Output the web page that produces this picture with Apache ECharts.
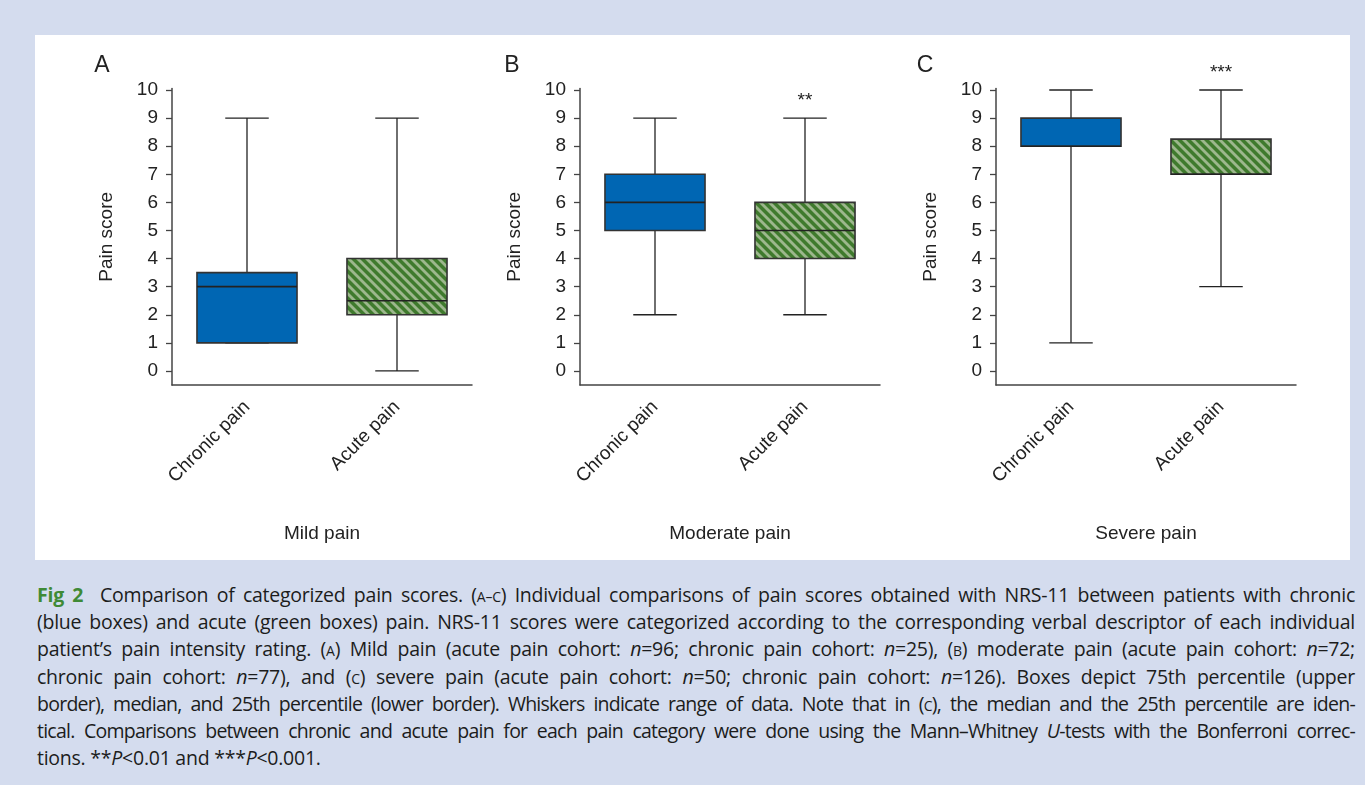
<!DOCTYPE html>
<html>
<head>
<meta charset="utf-8">
<script src="https://cdn.jsdelivr.net/npm/echarts@6/dist/echarts.min.js"></script>
<style>
  html, body { margin: 0; padding: 0; background: #d4dcee; width: 1365px; height: 785px; overflow: hidden; }
  #panel { position: absolute; left: 35px; top: 35px; width: 1315px; height: 525px; background: #ffffff; }
  #chart { position: absolute; left: 0; top: 0; width: 1365px; height: 570px; }
  #caption { position: absolute; left: 37px; top: 581px; width: 1318px; font-family: "Open Sans", "Noto Sans", sans-serif; font-size: 19.5px; color: #1c1c1c; letter-spacing: -0.25px; }
  #caption .ln { white-space: nowrap; height: 27.2px; line-height: 27.2px; text-align: justify; text-align-last: justify; }
  #caption .ln.last { text-align-last: left; }
  #caption .ln.tight { letter-spacing: -0.75px; word-spacing: -1.5px; }
  #caption .fig { color: #3f8a36; font-weight: bold; }
  #caption .sc { font-size: 14px; }
</style>
</head>
<body>
<div id="panel"></div>
<div id="chart"></div>
<div id="caption">
  <div class="ln"><span class="fig">Fig 2</span>&nbsp; Comparison of categorized pain scores. (<span class="sc">A–C</span>) Individual comparisons of pain scores obtained with NRS-11 between patients with chronic</div>
  <div class="ln">(blue boxes) and acute (green boxes) pain. NRS-11 scores were categorized according to the corresponding verbal descriptor of each individual</div>
  <div class="ln">patient’s pain intensity rating. (<span class="sc">A</span>) Mild pain (acute pain cohort: <i>n</i>=96; chronic pain cohort: <i>n</i>=25), (<span class="sc">B</span>) moderate pain (acute pain cohort: <i>n</i>=72;</div>
  <div class="ln">chronic pain cohort: <i>n</i>=77), and (<span class="sc">C</span>) severe pain (acute pain cohort: <i>n</i>=50; chronic pain cohort: <i>n</i>=126). Boxes depict 75th percentile (upper</div>
  <div class="ln tight">border), median, and 25th percentile (lower border). Whiskers indicate range of data. Note that in (<span class="sc">C</span>), the median and the 25th percentile are iden-</div>
  <div class="ln tight">tical. Comparisons between chronic and acute pain for each pain category were done using the Mann–Whitney <i>U</i>-tests with the Bonferroni correc-</div>
  <div class="ln last">tions. **<i>P</i>&lt;0.01 and ***<i>P</i>&lt;0.001.</div>
</div>
<script>
// Box statistics per panel: [min, Q1, median, Q3, max]
const categories = ['Chronic pain', 'Acute pain'];
const panelLetters = ['A', 'B', 'C'];
const panelNames = ['Mild pain', 'Moderate pain', 'Severe pain'];
const chronicStats = [
  [1, 1, 3, 3.5, 9],
  [2, 5, 6, 7, 9],
  [1, 8, 8, 9, 10]
];
const acuteStats = [
  [0, 2, 2.5, 4, 9],
  [2, 4, 5, 6, 9],
  [3, 7, 7, 8.25, 10]
];
const significance = ['', '**', '***'];
const yTicks = [0, 1, 2, 3, 4, 5, 6, 7, 8, 9, 10];

// Diagonal hatch tile for the acute-pain boxes
function makeHatch() {
  const s = 9;
  const cv = document.createElement('canvas');
  cv.width = s; cv.height = s;
  const ctx = cv.getContext('2d');
  ctx.fillStyle = '#3f7a2d';
  ctx.fillRect(0, 0, s, s);
  ctx.strokeStyle = '#9db78d';
  ctx.lineWidth = 2.8;
  for (let k = -1; k <= 1; k++) {
    ctx.beginPath();
    ctx.moveTo(k * s - 1, -1);
    ctx.lineTo(k * s + s + 1, s + 1);
    ctx.stroke();
  }
  return cv;
}
const hatch = { image: makeHatch(), repeat: 'repeat' };
const chronicColor = '#0066b3';

const chart = echarts.init(document.getElementById('chart'), null, { renderer: 'canvas' });

const gridLefts = [172, 580, 996];
const grids = [], xAxes = [], yAxes = [], series = [], graphics = [];
const labelFont = { fontFamily: 'Liberation Sans, Arial, sans-serif', fontSize: 19, color: '#222' };
const letterX = [102, 512, 925];

panelLetters.forEach((letter, p) => {
  grids.push({ left: gridLefts[p], top: 88.6, width: 300, height: 296.4 });
  xAxes.push({
    type: 'category', gridIndex: p, data: categories,
    axisLine: { onZero: false, lineStyle: { color: '#444', width: 1.5 } },
    axisTick: { alignWithLabel: true, length: 6, lineStyle: { color: '#444', width: 1.3 } },
    axisLabel: Object.assign({ rotate: 45, margin: 19, interval: 0 }, labelFont),
    name: panelNames[p], nameLocation: 'middle', nameGap: 139,
    nameTextStyle: Object.assign({}, labelFont),
    splitLine: { show: false }
  });
  yAxes.push({
    type: 'value', gridIndex: p, min: -0.5, max: 10.05,
    axisLine: { show: true, onZero: false, lineStyle: { color: '#444', width: 1.5 } },
    axisTick: { show: true, length: 6, customValues: yTicks, lineStyle: { color: '#444', width: 1.3 } },
    axisLabel: Object.assign({ margin: 14, customValues: yTicks }, labelFont),
    splitLine: { show: false },
    name: 'Pain score', nameLocation: 'middle', nameGap: 56,
    nameTextStyle: Object.assign({}, labelFont)
  });
  const data = [
    [0].concat(chronicStats[p]),
    [1].concat(acuteStats[p])
  ];
  series.push({
    type: 'custom', xAxisIndex: p, yAxisIndex: p,
    encode: { x: 0, y: [1, 2, 3, 4, 5] },
    data: data,
    renderItem: function (params, api) {
      const idx = params.dataIndex;
      const x = api.value(0);
      const vMin = api.value(1), q1 = api.value(2), med = api.value(3), q3 = api.value(4), vMax = api.value(5);
      const cx = api.coord([x, vMin])[0];
      const yMin = api.coord([x, vMin])[1];
      const yQ1 = api.coord([x, q1])[1];
      const yMed = api.coord([x, med])[1];
      const yQ3 = api.coord([x, q3])[1];
      const yMax = api.coord([x, vMax])[1];
      const band = api.size([1, 0])[0];
      const boxW = band * 0.667;
      const capW = band * 0.29;
      const lineStyle = { stroke: '#222', lineWidth: 1.3 };
      const children = [
        { type: 'line', shape: { x1: cx, y1: yMax, x2: cx, y2: yMin }, style: lineStyle },
        { type: 'line', shape: { x1: cx - capW / 2, y1: yMax, x2: cx + capW / 2, y2: yMax }, style: lineStyle },
        { type: 'line', shape: { x1: cx - capW / 2, y1: yMin, x2: cx + capW / 2, y2: yMin }, style: lineStyle },
        { type: 'rect', shape: { x: cx - boxW / 2, y: yQ3, width: boxW, height: yQ1 - yQ3 },
          style: { fill: idx === 0 ? chronicColor : hatch, stroke: '#333', lineWidth: 1.6 } },
        { type: 'line', shape: { x1: cx - boxW / 2, y1: yMed, x2: cx + boxW / 2, y2: yMed },
          style: { stroke: '#222', lineWidth: 1.6 } }
      ];
      if (idx === 1 && significance[p]) {
        children.push({ type: 'text', x: cx, y: yMax - 8,
          style: { text: significance[p], textAlign: 'center', textVerticalAlign: 'bottom',
                   font: '19px Liberation Sans, Arial, sans-serif', fill: '#222' } });
      }
      return { type: 'group', children: children };
    }
  });
  graphics.push({ type: 'text', x: letterX[p], y: 66,
    style: { text: letter, textAlign: 'center', textVerticalAlign: 'middle',
             font: '23px Liberation Sans, Arial, sans-serif', fill: '#222' } });
});

chart.setOption({
  animation: false,
  backgroundColor: 'transparent',
  grid: grids,
  xAxis: xAxes,
  yAxis: yAxes,
  series: series,
  graphic: graphics
});
</script>
</body>
</html>
